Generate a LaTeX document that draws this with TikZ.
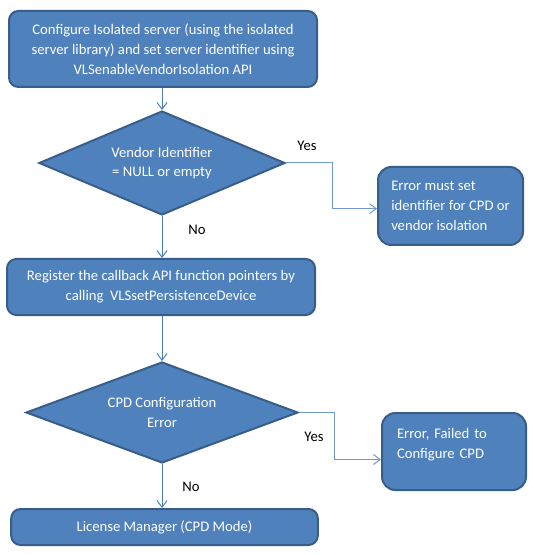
\documentclass[tikz,border=0pt]{standalone}
\usepackage{fontspec}
\setmainfont{Carlito}
\usepackage{xcolor}
\usepackage{tikz}
\usetikzlibrary{arrows.meta, positioning, shapes.geometric}

\definecolor{boxfill}{HTML}{4F81BD}
\definecolor{boxline}{HTML}{385D8A}
\definecolor{linkcol}{HTML}{4A7EBB}
\definecolor{sidecol}{HTML}{6F98CF}

\begin{document}
\begin{tikzpicture}[x=0.75pt, y=-0.75pt]

% ---- Styles ----------------------------------------------------------------
% one picture unit = one pixel of the 538 x 555 canvas (y runs down)
\tikzset{
  txt/.style={font=\fontsize{11}{14.8}\selectfont},
  proc/.style={txt, draw=boxline, fill=boxfill, line width=1.5pt,
               rounded corners=7pt, text=white, align=center, inner sep=0pt},
  errbox/.style={proc, rounded corners=10pt, align=left},
  decide/.style={txt, diamond, draw=boxline, fill=boxfill, line width=1.5pt,
                 text=white, align=center, inner sep=0pt, aspect=2.4},
  lbl/.style={txt, text=black, inner sep=0pt},
  link/.style={draw=linkcol, line width=0.75pt,
               -{Straight Barb[length=5pt, width=7.5pt]}},
  side/.style={link, draw=sidecol},
}

\def\EW{85.5pt}  % text width inside the second error box

\useasboundingbox (0,0) rectangle (538,555);

% ---- Main column -----------------------------------------------------------
\node[proc, minimum width=231pt, minimum height=57pt] (cfg) at (163,49)
  {Configure Isolated server (using the isolated\\
   server library) and set server identifier using\\
   VLSenableVendorIsolation API};

\node[decide, minimum width=184.5pt, minimum height=78pt] (vid) at (162,163)
  {Vendor Identifier\\ = NULL or empty};

\node[proc, minimum width=231pt, minimum height=42pt] (reg) at (161,287)
  {Register the callback API function pointers by\\
   calling \ VLSsetPersistenceDevice};

\node[decide, minimum width=204pt, minimum height=75.75pt] (cpd) at (162,412.5)
  {CPD Configuration\\ Error};

\node[proc, minimum width=230pt, minimum height=27pt] (lm) at (164.5,527)
  {License Manager (CPD Mode)};

% ---- Error branches --------------------------------------------------------
\node[errbox, minimum width=108.75pt, minimum height=58.5pt]
  (err1) at (450.5,206)
  {Error must set\\ identifier for CPD or\\ vendor isolation};

\node[errbox, minimum width=108pt, minimum height=57.75pt, text width=\EW]
  (err2) at (454,451.5)
  {Error, Failed to\\ Configure CPD\\[-7pt] \strut};

% ---- Connectors ------------------------------------------------------------
\draw[link] (vid.north |- cfg.south) -- (vid.north);
\draw[link] (vid.south) -- (vid.south |- reg.north);
\draw[link] (cpd.north |- reg.south) -- (cpd.north);
\draw[link] (cpd.south) -- (cpd.south |- lm.north);

\draw[side] (vid.east) -- ++(46,0) |- ([yshift=-2pt]err1.west);
\draw[side] (cpd.east) -- ++(35,0) |- ([yshift=-6pt]err2.west);

% ---- Branch labels ---------------------------------------------------------
\node[lbl] (yes1) at (307,146) {Yes};
\node[lbl] (no1)  at (197,230) {No};
\node[lbl] (yes2) at (314,437) {Yes};
\node[lbl] (no2)  at (191,487) {No};

\end{tikzpicture}
\end{document}
